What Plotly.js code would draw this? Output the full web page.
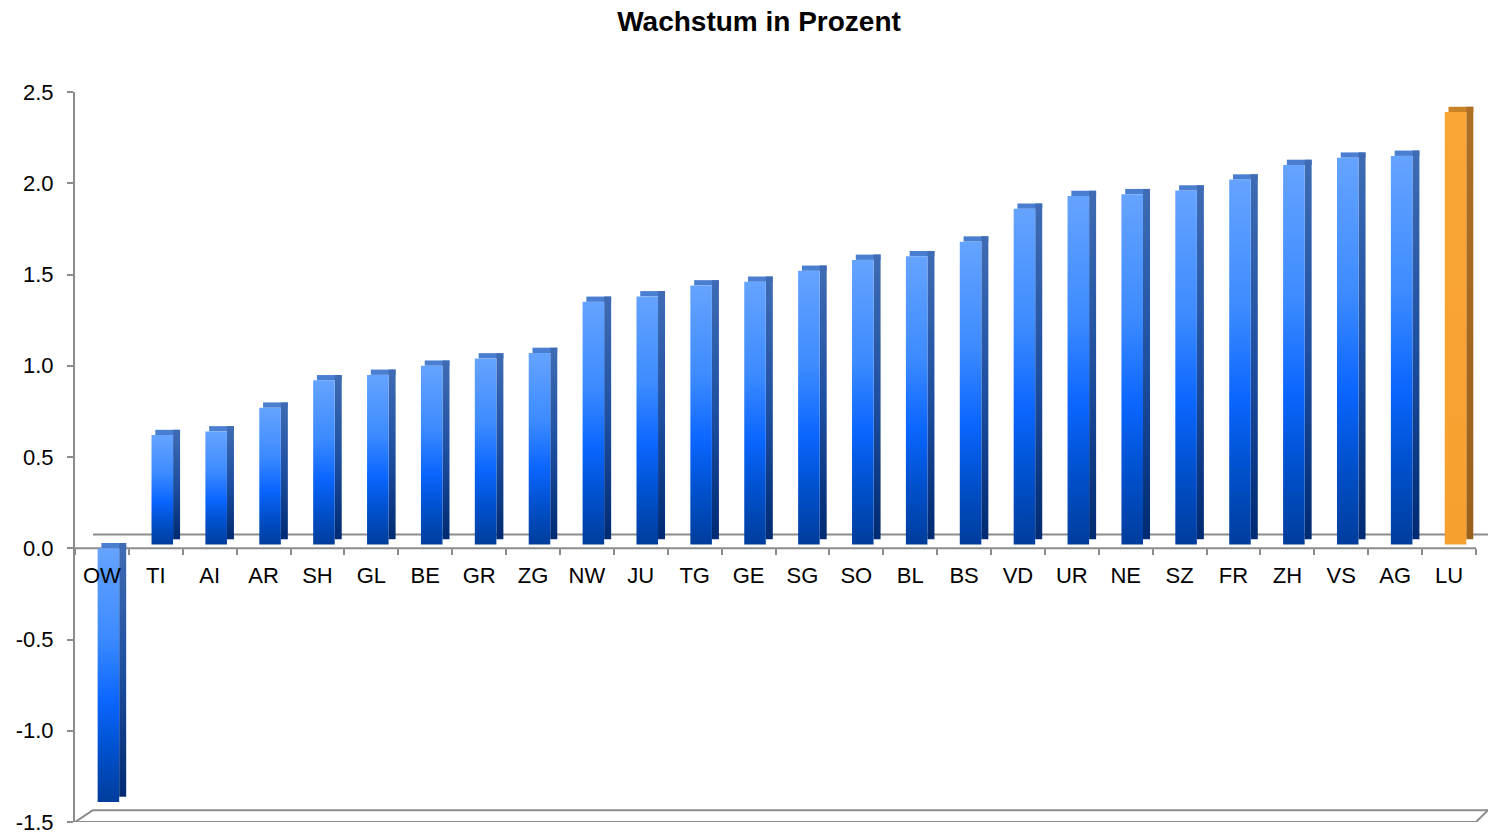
<!DOCTYPE html>
<html>
<head>
<meta charset="utf-8">
<script src="https://cdn.plot.ly/plotly-3.0.1.min.js"></script>
<style>
  html, body { margin: 0; padding: 0; background: #ffffff; }
  #chart { width: 1488px; height: 837px; }
</style>
</head>
<body>
<div id="chart"></div>
<script>
// ---- data ----
const categories = ['OW','TI','AI','AR','SH','GL','BE','GR','ZG','NW','JU','TG','GE','SG','SO','BL','BS','VD','UR','NE','SZ','FR','ZH','VS','AG','LU'];
const values = [-1.39, 0.62, 0.64, 0.77, 0.92, 0.95, 1.00, 1.04, 1.07, 1.35, 1.38, 1.44, 1.46, 1.52, 1.58, 1.60, 1.68, 1.86, 1.93, 1.94, 1.96, 2.02, 2.10, 2.14, 2.15, 2.39];
const highlight = 'LU';
const yTickValues = [-1.5, -1.0, -0.5, 0.0, 0.5, 1.0, 1.5, 2.0, 2.5];
const yTickLabels = ['-1.5', '-1.0', '-0.5', '0.0', '0.5', '1.0', '1.5', '2.0', '2.5'];
const chartTitle = 'Wachstum in Prozent';

// ---- style ----
const depth = 0.029;          // pseudo-3D top-face rise in axis units
const floorGap = 0.02;        // bars stand slightly above the front edge of the floor
const axisGray = '#8c8c8c';
const fontFam = 'Liberation Sans, Arial, Helvetica, sans-serif';
const isHi = categories.map(c => c === highlight);
const baseOf = values.map(v => (v > 0 ? floorGap : 0));

const topFace = {
  type: 'bar', x: categories, y: values.map(() => depth),
  base: values.map(v => (v > 0 ? v : 0)),
  offset: -0.01, width: 0.46,
  marker: { color: isHi.map(h => (h ? '#c98326' : '#4a7ed0')), line: { width: 0 } },
  hoverinfo: 'skip', showlegend: false
};
const sideFace = {
  type: 'bar', x: categories, y: values.map((v, i) => v - baseOf[i]),
  base: baseOf.map(b => b + depth),
  offset: 0.32, width: 0.13,
  marker: { color: isHi.map(h => (h ? '#a86a22' : '#1d4a96')), line: { width: 0 } },
  hoverinfo: 'skip', showlegend: false
};
const frontFace = {
  type: 'bar', x: categories, y: values.map((v, i) => v - baseOf[i]),
  base: baseOf,
  offset: -0.08, width: 0.40,
  marker: { color: isHi.map(h => (h ? '#f9a433' : '#1a6cf0')), line: { width: 0 } },
  showlegend: false
};

const L = 75, R = 12, T = 92, B = 15;
const W = 1488, H = 837;
const pw = W - L - R;
const px = p => (p - L) / pw;

const lineStyle = { color: axisGray, width: 2 };
const shapes = [
  // front edge of the zero plane (drawn below the bars)
  { type: 'line', xref: 'paper', yref: 'y', x0: 0, x1: 1, y0: 0, y1: 0, line: lineStyle, layer: 'below' },
  // back line of the zero plane
  { type: 'line', xref: 'paper', yref: 'y', x0: px(93), x1: px(1488), y0: 0.076, y1: 0.076, line: lineStyle, layer: 'below' },
  // floor: front edge, back edge, diagonals
  { type: 'line', xref: 'paper', yref: 'y', x0: 0, x1: 1, y0: -1.5, y1: -1.5, line: lineStyle, layer: 'below' },
  { type: 'line', xref: 'paper', yref: 'y', x0: px(93), x1: px(1488), y0: -1.435, y1: -1.435, line: lineStyle, layer: 'below' },
  { type: 'line', xref: 'paper', yref: 'y', x0: 0, x1: px(93), y0: -1.5, y1: -1.435, line: lineStyle, layer: 'below' },
  { type: 'line', xref: 'paper', yref: 'y', x0: 1, x1: px(1488), y0: -1.5, y1: -1.435, line: lineStyle, layer: 'below' }
];

const layout = {
  width: W, height: H,
  margin: { l: L, r: R, t: T, b: B, pad: 0 },
  paper_bgcolor: '#ffffff', plot_bgcolor: '#ffffff',
  barmode: 'overlay',
  title: {
    text: chartTitle,
    font: { family: fontFam, size: 28, color: '#000000', weight: 'bold' },
    xref: 'container', x: 759 / W, xanchor: 'center',
    yref: 'container', y: 1 - 21.5 / H, yanchor: 'middle'
  },
  xaxis: {
    type: 'category', range: [-0.5, categories.length - 0.5],
    anchor: 'free', position: 1.5 / 4,
    showline: false,
    ticks: 'outside', tickson: 'boundaries', ticklen: 6, tickwidth: 2, tickcolor: axisGray,
    tickfont: { family: fontFam, size: 22, color: '#000000' },
    ticklabelstandoff: 12,
    showgrid: false, zeroline: false, layer: 'above traces', fixedrange: true
  },
  yaxis: {
    range: [-1.5, 2.5],
    tickmode: 'array', tickvals: yTickValues, ticktext: yTickLabels,
    showline: true, linecolor: axisGray, linewidth: 2,
    ticks: 'outside', ticklen: 6, tickwidth: 2, tickcolor: axisGray,
    tickfont: { family: fontFam, size: 22, color: '#000000' },
    ticklabelstandoff: 9, ticklabeloverflow: 'allow',
    showgrid: false, zeroline: false, fixedrange: true
  },
  shapes: shapes
};

const gd = document.getElementById('chart');
Plotly.newPlot(gd, [topFace, sideFace, frontFace], layout, { staticPlot: true, displayModeBar: false })
  .then(() => {
    const NS = 'http://www.w3.org/2000/svg';
    const defs = gd.querySelector('svg.main-svg defs');
    if (!defs) return;
    function grad(id, stops) {
      const g = document.createElementNS(NS, 'linearGradient');
      g.setAttribute('id', id);
      g.setAttribute('x1', '0'); g.setAttribute('y1', '0');
      g.setAttribute('x2', '0'); g.setAttribute('y2', '1');
      stops.forEach(([o, c]) => {
        const s = document.createElementNS(NS, 'stop');
        s.setAttribute('offset', o);
        s.setAttribute('stop-color', c);
        g.appendChild(s);
      });
      defs.appendChild(g);
      return 'url(#' + id + ')';
    }
    const blueFront = grad('gBlueFront', [['0', '#65a3ff'], ['0.35', '#3d8bff'], ['0.6', '#0b66ff'], ['0.8', '#0050cc'], ['1', '#003d9c']]);
    const blueSide = grad('gBlueSide', [['0', '#3f6cb4'], ['0.5', '#1e4fa0'], ['1', '#002a72']]);
    const orangeFront = grad('gOrFront', [['0', '#f9a636'], ['1', '#f7a030']]);
    const orangeSide = grad('gOrSide', [['0', '#ad6f24'], ['1', '#9a601c']]);
    const traces = gd.querySelectorAll('.barlayer .trace');
    const fills = [null, [blueSide, orangeSide], [blueFront, orangeFront]];
    traces.forEach((tr, k) => {
      if (!fills[k]) return;
      tr.querySelectorAll('.point').forEach((pt, i) => {
        const path = pt.querySelector('path');
        if (path) path.style.setProperty('fill', isHi[i] ? fills[k][1] : fills[k][0]);
      });
    });
  });
</script>
</body>
</html>
